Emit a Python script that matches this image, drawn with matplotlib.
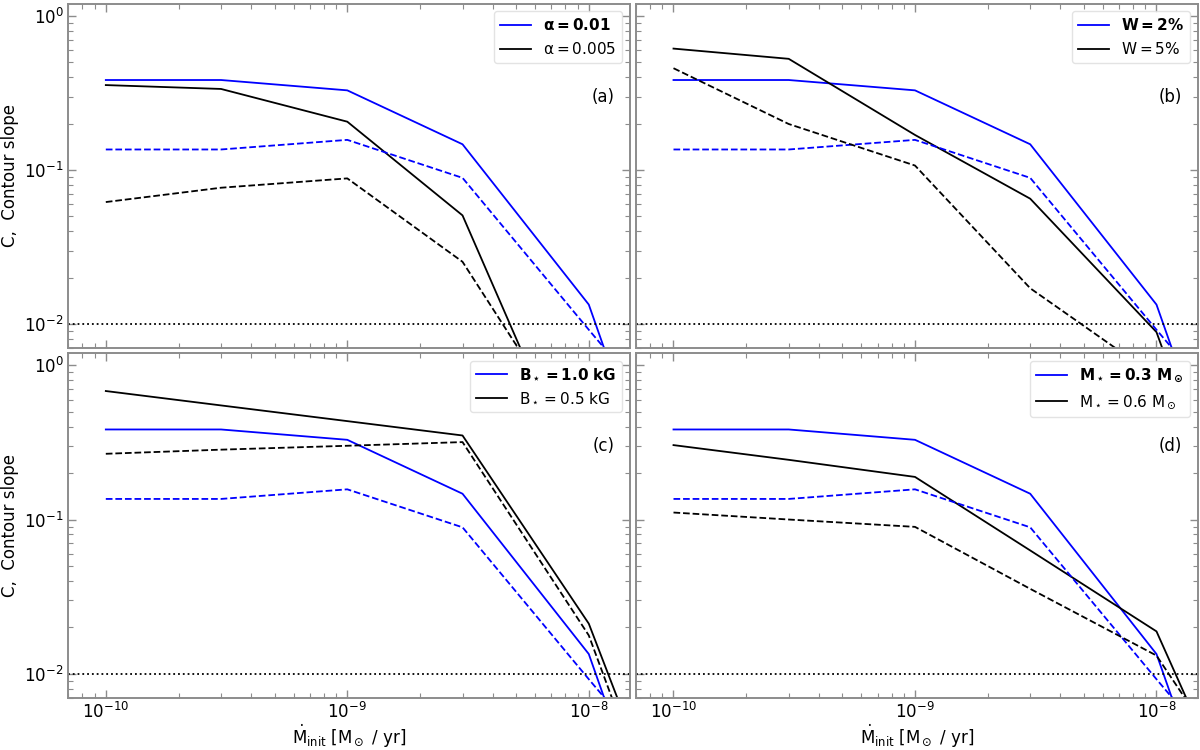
import numpy as np
import matplotlib
matplotlib.use("Agg")
import matplotlib.pyplot as plt

# accretion rates (Msun/yr); the last point lies below the plotted range
mdot = [1e-10, 3e-10, 1e-9, 3e-9, 1e-8, 3e-8]

# reference model (blue), same in every panel
ref_solid = [0.384, 0.384, 0.329, 0.147, 0.0134, 1.0e-4]
ref_dash = [0.136, 0.136, 0.157, 0.089, 0.0092, 1.2e-3]

# comparison models (black)
a_solid = [0.356, 0.336, 0.206, 0.0508, 6.7e-4, 1e-5]
a_dash = [0.062, 0.0768, 0.0883, 0.0254, 1.36e-3, 1e-5]
b_solid = [0.614, 0.527, 0.169, 0.0652, 0.00888, 7.5e-5]
b_dash = [0.458, 0.199, 0.107, 0.0171, 4.55e-3, 1e-5]
c_solid = [0.682, 0.550, 0.435, 0.351, 0.0211, 2.4e-4]
c_dash = [0.267, 0.284, 0.301, 0.318, 0.0177, 1.7e-4]
d_solid = [0.304, 0.244, 0.189, 0.063, 0.0188, 4.0e-4]
d_dash = [0.111, 0.100, 0.0896, 0.0355, 0.0131, 1.0e-3]

panels = [
    ("(a)", a_solid, a_dash, r"$\mathbf{\alpha = 0.01}$", r"$\mathrm{\alpha = 0.005}$"),
    ("(b)", b_solid, b_dash, r"$\mathbf{W = 2\%}$", r"$\mathrm{W = 5\%}$"),
    ("(c)", c_solid, c_dash, r"$\mathbf{B_\star = 1.0\ kG}$", r"$\mathrm{B_\star = 0.5\ kG}$"),
    ("(d)", d_solid, d_dash, r"$\mathbf{M_\star = 0.3\ M_\odot}$", r"$\mathrm{M_\star = 0.6\ M_\odot}$"),
]

GRAY = "#8c8c8c"

fig, axes = plt.subplots(2, 2, figsize=(12, 7.5), dpi=100, sharex=True, sharey=True)
fig.subplots_adjust(left=0.057, right=0.998, top=0.995, bottom=0.07,
                    wspace=0.011, hspace=0.015)

for ax, (tag, solid, dash, lab_ref, lab_cmp) in zip(axes.flat, panels):
    ax.plot(mdot, ref_solid, color="blue", lw=1.3, label=lab_ref)
    ax.plot(mdot, solid, color="black", lw=1.3, label=lab_cmp)
    ax.plot(mdot, ref_dash, color="blue", lw=1.3, ls="--")
    ax.plot(mdot, dash, color="black", lw=1.3, ls="--")
    ax.axhline(0.01, color="black", lw=1.3, ls=":")
    ax.set_xscale("log")
    ax.set_yscale("log")
    ax.set_xlim(7.0e-11, 1.48e-8)
    ax.set_ylim(7.0e-3, 1.2)
    ax.text(0.973, 0.73, tag, transform=ax.transAxes, ha="right", va="center",
            fontsize=12)
    ax.legend(loc="upper right", fontsize=11, handlelength=2.0,
              edgecolor="#dddddd")
    ax.tick_params(which="both", direction="in", top=True, right=True,
                   color=GRAY, labelsize=12)
    ax.tick_params(which="major", length=6, width=1.0)
    ax.tick_params(which="minor", length=3.5, width=0.8)
    for sp in ax.spines.values():
        sp.set_color(GRAY)
        sp.set_linewidth(1.4)

for ax in axes[:, 0]:
    ax.set_ylabel("C,  Contour slope", fontsize=12)
for ax in axes[1, :]:
    ax.set_xlabel(r"$\dot{\rm M}_{\rm init}$ [M$_\odot$ / yr]", fontsize=12,
                  labelpad=0)

fig.savefig("out.png", dpi=100)
